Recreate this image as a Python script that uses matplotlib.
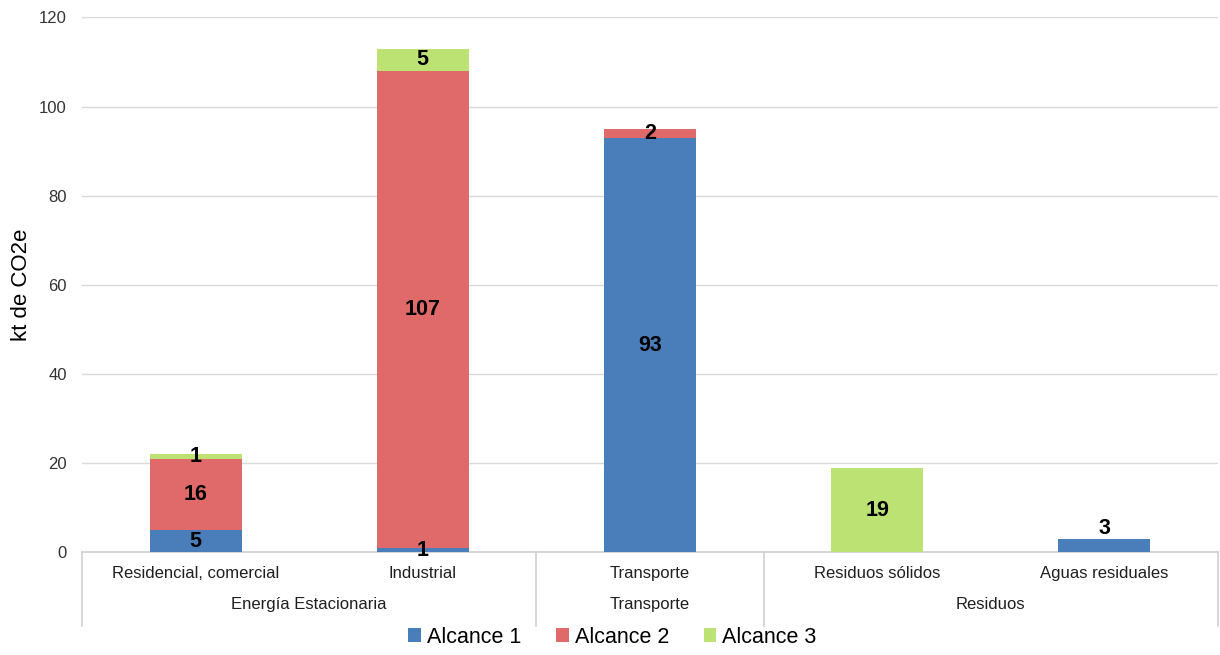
import matplotlib
matplotlib.use("Agg")
import matplotlib.pyplot as plt
from matplotlib.patches import Patch
from matplotlib.lines import Line2D
import matplotlib.transforms as mtransforms
import numpy as np

plt.rcParams['font.family'] = ['Liberation Sans', 'DejaVu Sans']

# Data
categories = ["Residencial, comercial", "Industrial", "Transporte",
              "Residuos sólidos", "Aguas residuales"]
groups = ["Energía Estacionaria", "Transporte", "Residuos"]
group_sizes = [2, 1, 2]
series_names = ["Alcance 1", "Alcance 2", "Alcance 3"]
alcance1 = [5, 1, 93, 0, 3]
alcance2 = [16, 107, 2, 0, 0]
alcance3 = [1, 5, 0, 19, 0]
yticks = [0, 20, 40, 60, 80, 100, 120]

colors = ["#4a7ebb", "#e06a6a", "#bde274"]

fig = plt.figure(figsize=(12.2, 6.55), dpi=100)
ax = fig.add_axes([0.0672, 0.1565, 0.9312, 0.8168])

x = np.arange(len(categories))
bar_w = 0.405
bottom = np.zeros(len(categories))
for vals, col in zip([alcance1, alcance2, alcance3], colors):
    vals = np.array(vals, dtype=float)
    ax.bar(x, vals, bar_w, bottom=bottom, color=col, zorder=3)
    for xi, b, v in zip(x, bottom, vals):
        if v <= 0:
            continue
        total = b + v
        if total == v and v < 4 and xi == len(categories) - 1:
            # small single-segment bar: label sits on top
            ax.text(xi, total, f"{int(v)}", ha="center", va="bottom",
                    fontsize=15.5, fontweight="bold", color="black", zorder=4)
        else:
            ax.text(xi, b + v / 2, f"{int(v)}", ha="center", va="center",
                    fontsize=15.5, fontweight="bold", color="black", zorder=4)
    bottom += vals

ax.set_xlim(-0.5, len(categories) - 0.5)
ax.set_ylim(0, 120)
ax.set_yticks(yticks)
ax.set_yticklabels([str(t) for t in yticks], fontsize=12, color="#333333")
ax.yaxis.grid(True, color="#d9d9d9", linewidth=1.0, zorder=0)
ax.tick_params(axis="y", length=0, pad=11)
ax.tick_params(axis="x", length=0, pad=10)
ax.set_xticks(x)
ax.set_xticklabels(categories, fontsize=12, color="#1f1f1f")
for side in ["left", "right", "top"]:
    ax.spines[side].set_visible(False)
ax.spines["bottom"].set_color("#d0d0d0")
ax.spines["bottom"].set_linewidth(1.2)

ax.set_ylabel("kt de CO2e", fontsize=16, color="black")
ax.yaxis.set_label_coords(-0.044, 0.5)

# Second category level and separators
trans = mtransforms.blended_transform_factory(ax.transData, ax.transAxes)
edges = np.concatenate([[0], np.cumsum(group_sizes)]) - 0.5
sep_bottom = -0.137
for e in edges:
    ax.add_line(Line2D([e, e], [0, sep_bottom], transform=trans,
                       color="#d0d0d0", linewidth=1.2, clip_on=False))
for g, a, b in zip(groups, edges[:-1], edges[1:]):
    ax.text((a + b) / 2, -0.097, g, transform=trans, ha="center",
            va="center", fontsize=12, color="#1f1f1f")

handles = [Patch(facecolor=c, edgecolor="none") for c in colors]
fig.legend(handles, series_names, loc="center", bbox_to_anchor=(0.502, 0.027),
           ncol=3, frameon=False, fontsize=15.5, handlelength=0.6,
           handleheight=0.6, handletextpad=0.28, columnspacing=1.6)

fig.savefig("out.png", dpi=100)
